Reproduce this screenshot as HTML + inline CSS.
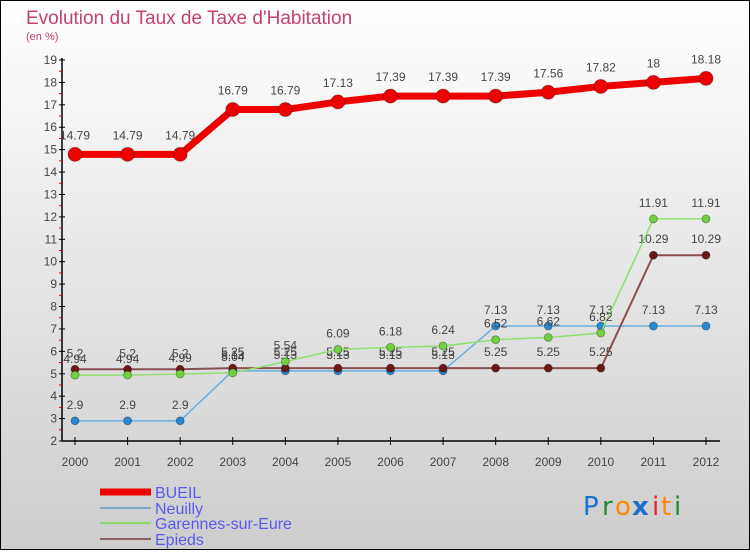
<!DOCTYPE html>
<html><head><meta charset="utf-8"><style>
body{margin:0;}
#c{width:750px;height:550px;position:relative;font-family:"Liberation Sans",sans-serif;}
</style></head><body>
<div id="c">
<svg id="s" width="750" height="550" xmlns="http://www.w3.org/2000/svg">
<defs>
<linearGradient id="bg" x1="0" y1="0" x2="0" y2="1"><stop offset="0" stop-color="#ffffff"/><stop offset="1" stop-color="#cdcdcd"/></linearGradient>
</defs>
<rect x="0.5" y="0.5" width="749" height="549" fill="url(#bg)" stroke="#000"/>
<text x="26" y="24" font-size="19" fill="#c4406f">Evolution du Taux de Taxe d'Habitation</text>
<text x="26" y="40" font-size="11" fill="#c4406f">(en %)</text>
<g id="axes"></g>
<g id="series"></g>
<g id="legend">
<line x1="100" y1="492" x2="151" y2="492" stroke="#ee0000" stroke-width="7"/>
<text x="155" y="498" font-size="16" fill="#5a5aee">BUEIL</text>
<line x1="100" y1="508" x2="151" y2="508" stroke="#7ea6c0" stroke-width="2"/>
<text x="155" y="514" font-size="16" fill="#5a5aee">Neuilly</text>
<line x1="100" y1="523" x2="151" y2="523" stroke="#90d870" stroke-width="2"/>
<text x="155" y="529" font-size="16" fill="#5a5aee">Garennes-sur-Eure</text>
<line x1="100" y1="539" x2="151" y2="539" stroke="#8a6060" stroke-width="2"/>
<text x="155" y="545" font-size="16" fill="#5a5aee">Epieds</text>
</g>
<g font-size="26" font-family="'DejaVu Sans',sans-serif">
<text x="583" y="515" fill="#1a70d0">P</text><text x="602" y="515" fill="#228833">r</text><text x="615" y="515" fill="#ff8800">o</text><text x="632" y="515" fill="#1a70d0" font-weight="bold">x</text><text x="652" y="515" fill="#ee2222">i</text><text x="661" y="515" fill="#ff8800">t</text><text x="674" y="515" fill="#228833">i</text>
</g>
</svg>
</div>
<script>
const years=["2000","2001","2002","2003","2004","2005","2006","2007","2008","2009","2010","2011","2012"];
const bueil=[14.79,14.79,14.79,16.79,16.79,17.13,17.39,17.39,17.39,17.56,17.82,18,18.18];
const neuilly=[2.9,2.9,2.9,5.13,5.13,5.13,5.13,5.13,7.13,7.13,7.13,7.13,7.13];
const garennes=[4.94,4.94,4.99,5.04,5.54,6.09,6.18,6.24,6.52,6.62,6.82,11.91,11.91];
const epieds=[5.2,5.2,5.2,5.25,5.25,5.25,5.25,5.25,5.25,5.25,5.25,10.29,10.29];
const yTicks=[2,3,4,5,6,7,8,9,10,11,12,13,14,15,16,17,18,19];
const NS="http://www.w3.org/2000/svg";
const x0=75,x1=706,yMin=2,yMax=19,py0=441,py1=60;
function X(i){return x0+(x1-x0)*i/(years.length-1);}
function Y(v){return py0-(v-yMin)*(py0-py1)/(yMax-yMin);}
function mk(t,a,p){const e=document.createElementNS(NS,t);for(const k in a)e.setAttribute(k,a[k]);p.appendChild(e);return e;}
const ax=document.getElementById('axes');
const yl=mk('line',{x1:62,y1:py1-2,x2:62,y2:py0,stroke:'#000','stroke-width':1.5},ax);


const xl=mk('line',{x1:62,y1:py0,x2:720,y2:py0,stroke:'#000','stroke-width':1.5},ax);


yTicks.forEach(v=>{
 mk('line',{x1:59,y1:Y(v),x2:65,y2:Y(v),stroke:'#000'},ax);
 if(v<yMax)mk('line',{x1:59,y1:Y(v+0.5),x2:62,y2:Y(v+0.5),stroke:'#e00'},ax);
 const t=mk('text',{x:57,y:Y(v)+4,'font-size':12,fill:'#444','text-anchor':'end'},ax);
 t.textContent=v;
 
 
});
years.forEach((y,i)=>{
 mk('line',{x1:X(i),y1:py0-4,x2:X(i),y2:py0+4,stroke:'#000'},ax);
 const t=mk('text',{x:X(i),y:py0+25,'font-size':12,fill:'#444','text-anchor':'middle'},ax);
 t.textContent=y;
 
 
});
const sg=document.getElementById('series');
function draw(data,name,color,dot,w,r){
 const g=mk('g',{},sg);
 
 
 const pl=mk('polyline',{points:data.map((v,i)=>X(i)+','+Y(v)).join(' '),fill:'none',stroke:color,'stroke-width':w,'stroke-linejoin':'round'},g);
 
 
 data.forEach((v,i)=>{
  const c=mk('circle',{cx:X(i),cy:Y(v),r:r,fill:dot,stroke:'rgba(0,0,0,0.3)'},g);
  
  
  const t=mk('text',{x:X(i),y:Y(v)-(r+8),'font-size':12,fill:'#444','text-anchor':'middle'},g);
  t.textContent=String(v);
  
  
 });
}
draw(neuilly,'neuilly','#6aaee0','#2a88d0',1.5,4);
draw(epieds,'epieds','#8a5050','#6a1818',2,4);
draw(garennes,'garennes','#90e070','#70d040',1.5,4);
draw(bueil,'bueil','#ee0000','#ee0000',7,7);
</script>
</body></html>
